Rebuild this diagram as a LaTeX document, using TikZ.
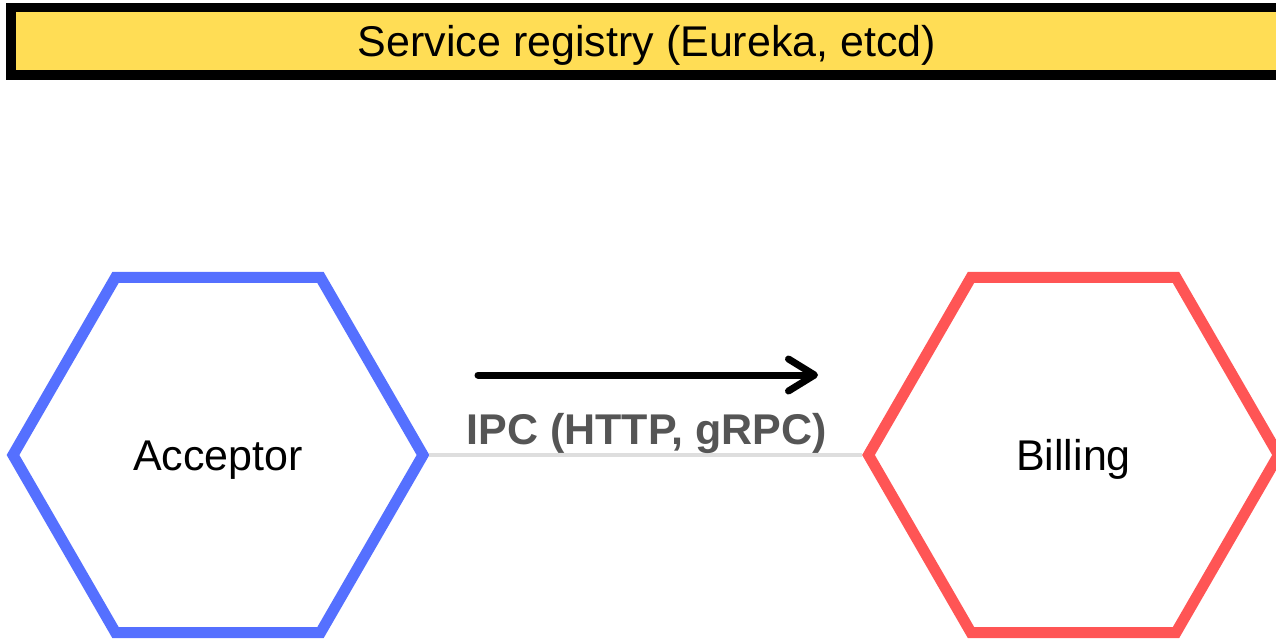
\documentclass[tikz,border=0pt]{standalone}
\usepackage{fontspec}
\setmainfont{Liberation Sans}
\usepackage{tikz}
\usetikzlibrary{positioning,arrows.meta,shapes.geometric}
\definecolor{registryyellow}{RGB}{255,221,85}
\definecolor{acceptorblue}{RGB}{85,112,255}
\definecolor{billingred}{RGB}{255,85,85}
\definecolor{labelgray}{RGB}{85,85,85}
\definecolor{wiregray}{RGB}{222,222,222}

\begin{document}
\begin{tikzpicture}[x=1pt,y=-1pt,
    registry/.style={draw=black,fill=registryyellow,line width=9.5pt,minimum width=1272pt,minimum height=67.5pt,inner sep=0pt,text height=30pt,text depth=0pt,font=\fontsize{43}{50}\selectfont},
    service/.style={regular polygon,regular polygon sides=6,line width=11pt,minimum size=410pt,inner sep=0pt,text height=30pt,text depth=0pt,font=\fontsize{43}{50}\selectfont},
    wire/.style={wiregray,line width=4pt},
    flow/.style={-{Straight Barb[length=26pt,width=32pt,round]},line width=7pt,line cap=round},
    ipclabel/.style={text=labelgray,inner sep=0pt,font=\fontsize{43}{50}\selectfont\bfseries}]
    \useasboundingbox (0,0) rectangle (1276,641);
    \clip (0,0) rectangle (1276,641);
    \node[registry] (reg) at (647,41.25) {Service registry (Eureka, etcd)};
    \node[service,draw=acceptorblue] (acceptor) at (218,455) {Acceptor};
    \node[service,draw=billingred] (billing) at (1073.5,455) {Billing};
    \draw[wire] (acceptor.east) -- (billing.west);
    \node[ipclabel,anchor=base] (ipc) at (646.5,444) {IPC (HTTP, gRPC)};
    \coordinate (ipcstart) at (478,375);
    \coordinate (ipcend) at (818,375);
    \draw[flow] (ipcstart) -- (ipcend);
\end{tikzpicture}
\end{document}
